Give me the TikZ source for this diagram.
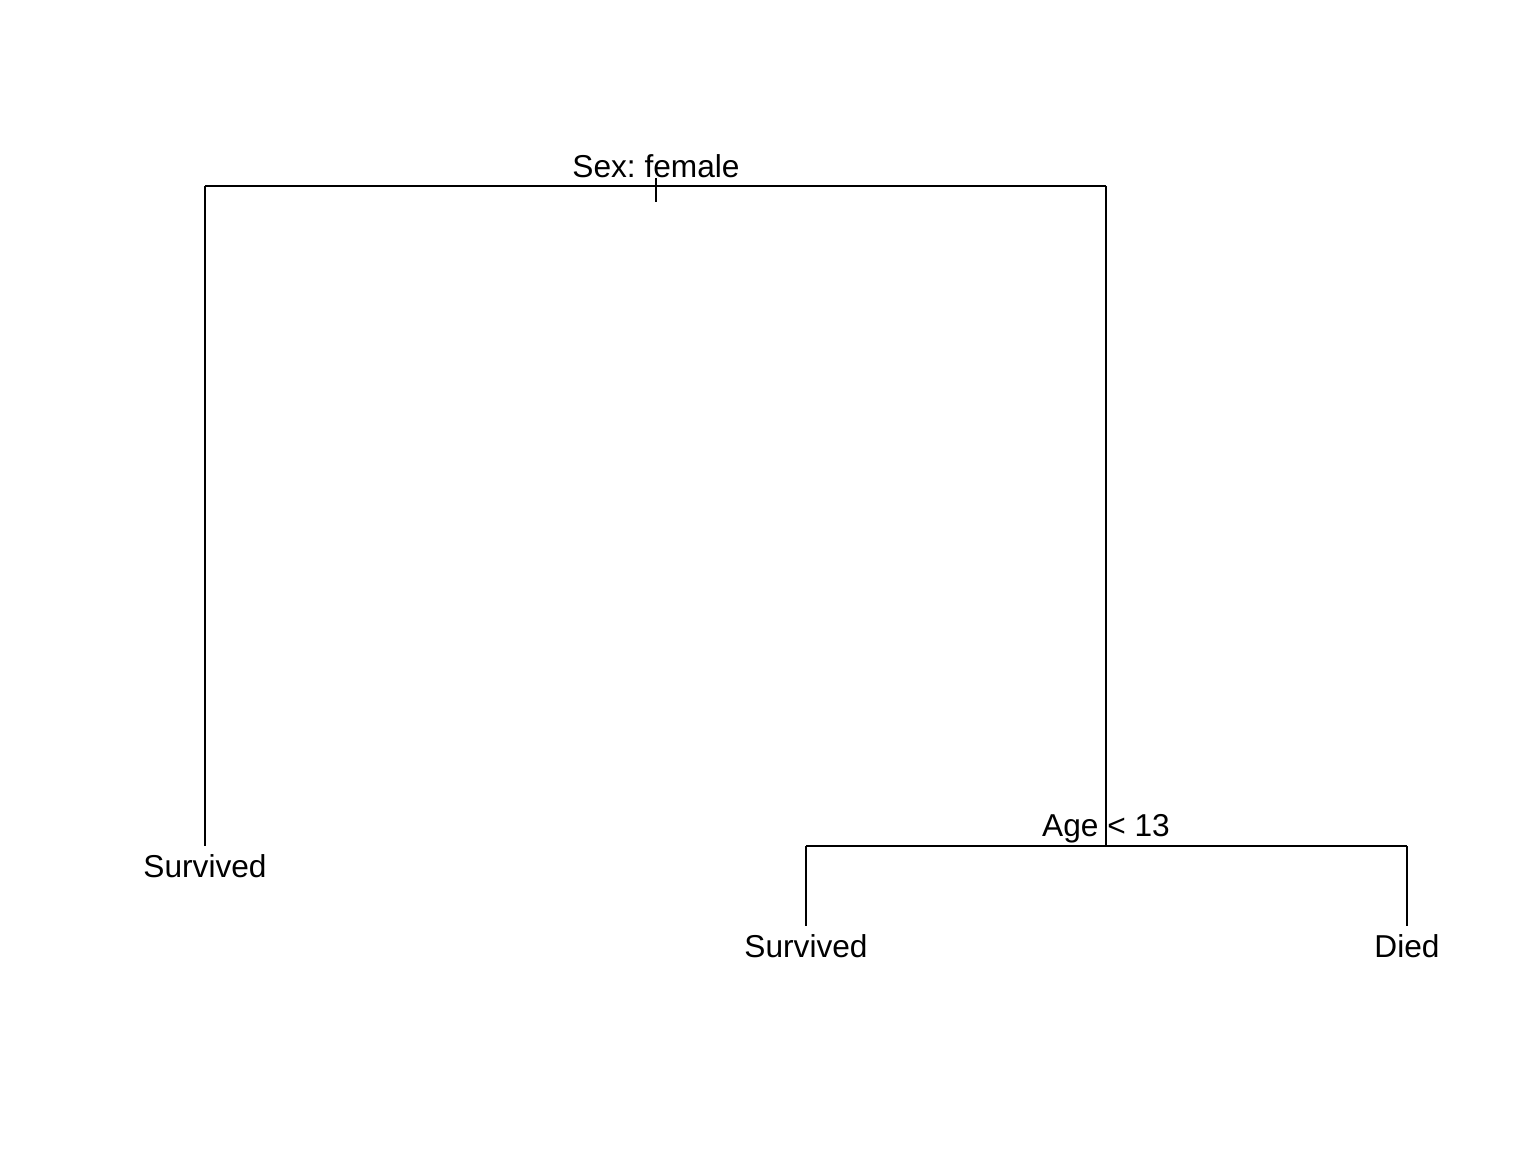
\documentclass[tikz,border=0pt]{standalone}
\usepackage{fontspec}
\setmainfont{Liberation Sans}
\frenchspacing
\usetikzlibrary{positioning}
\tikzset{
  lbl/.style={anchor=base,inner sep=0pt,font=\fontsize{9}{11}\selectfont},
  branch/.style={line width=0.6pt}
}
\begin{document}
\begin{tikzpicture}[x=0.01cm,y=-0.01cm]
\useasboundingbox (0,0) rectangle (1536,1152);
% split points and leaves
\coordinate (sexL) at (205,186);
\coordinate (sexR) at (1106,186);
\coordinate (sextick) at (656,202);
\coordinate (ageL) at (806,846);
\coordinate (ageR) at (1407,846);
\coordinate (age) at (1106,846);
\coordinate (leaf1) at (205,846);
\coordinate (leaf2) at (806,926);
\coordinate (leaf3) at (1407,926);
% labels
\node[lbl] (sex) at (656,178) {Sex: female};
\node[lbl] (agetxt) at (1106,836) {Age < 13};
\node[lbl] (surv1) at (205,877) {Survived};
\node[lbl] (surv2) at (806,957) {Survived};
\node[lbl] (died) at (1407,957) {Died};
% branches
\draw[branch] (sex.base) -- (sextick);
\draw[branch] (sexL) -- (sexR);
\draw[branch] (sexL) -- (leaf1);
\draw[branch] (sexR) -- (age);
\draw[branch] (ageL) -- (ageR);
\draw[branch] (ageL) -- (leaf2);
\draw[branch] (ageR) -- (leaf3);
\end{tikzpicture}
\end{document}
